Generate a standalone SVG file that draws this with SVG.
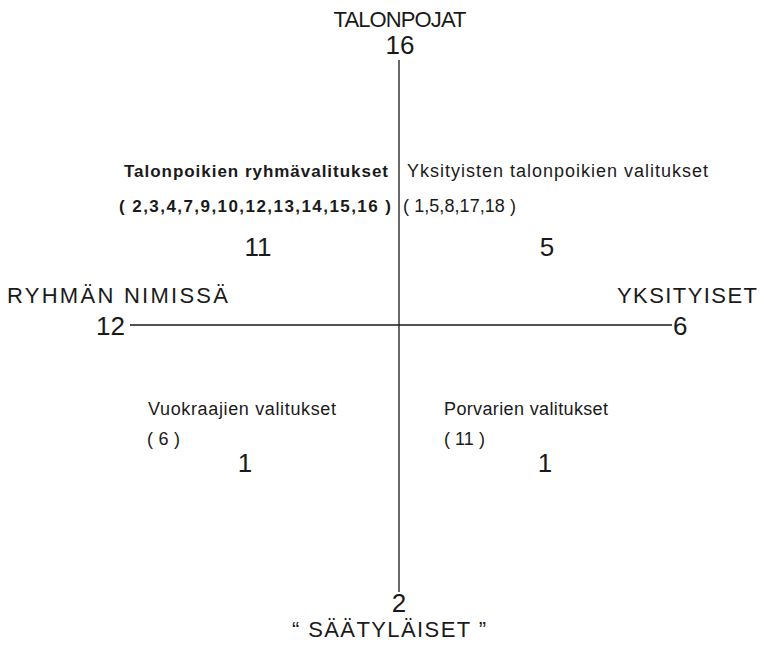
<svg xmlns="http://www.w3.org/2000/svg" width="764" height="646" viewBox="0 0 764 646">
<style>
text{font-family:"Liberation Sans",Arial,sans-serif;fill:#1a1a1a}
.ax{font-size:22px}
.num{font-size:26px}
.lbl{font-size:18px}
.b{font-weight:bold;font-size:17px}
.c{text-anchor:middle}
.axis{stroke:#1a1a1a;stroke-width:1.3;fill:none}
</style>
<rect width="764" height="646" fill="#fff"/>
<g id="connectors">
<line class="axis" x1="399" y1="60" x2="399" y2="592"/>
<line class="axis" x1="130" y1="325" x2="672" y2="325"/>
</g>
<g id="top">
<text class="ax c" x="400" y="27" textLength="133">TALONPOJAT</text>
<text class="num c" x="400" y="54">16</text>
</g>
<g id="bottom">
<text class="num c" x="399" y="612">2</text>
<text class="ax" x="292" y="637" textLength="194">“ SÄÄTYLÄISET ”</text>
</g>
<g id="left">
<text class="ax" x="7" y="303" textLength="221">RYHMÄN NIMISSÄ</text>
<text class="num" x="96" y="335">12</text>
</g>
<g id="right">
<text class="ax" x="617" y="303" textLength="140">YKSITYISET</text>
<text class="num" x="673" y="335">6</text>
</g>
<g id="q-top-left">
<text class="b" x="124" y="177" textLength="264">Talonpoikien ryhmävalitukset</text>
<text class="b" x="119" y="212" textLength="272">( 2,3,4,7,9,10,12,13,14,15,16 )</text>
<text class="num c" x="258" y="256">11</text>
</g>
<g id="q-top-right">
<text class="lbl" x="407" y="177" textLength="301">Yksityisten talonpoikien valitukset</text>
<text class="lbl" x="403" y="212" textLength="113">( 1,5,8,17,18 )</text>
<text class="num c" x="547" y="256">5</text>
</g>
<g id="q-bottom-left">
<text class="lbl" x="148" y="415" textLength="188">Vuokraajien valitukset</text>
<text class="lbl" x="147" y="445" textLength="33">( 6 )</text>
<text class="num c" x="245" y="472">1</text>
</g>
<g id="q-bottom-right">
<text class="lbl" x="444" y="415" textLength="164">Porvarien valitukset</text>
<text class="lbl" x="444" y="445" textLength="41">( 11 )</text>
<text class="num c" x="545" y="472">1</text>
</g>
</svg>
